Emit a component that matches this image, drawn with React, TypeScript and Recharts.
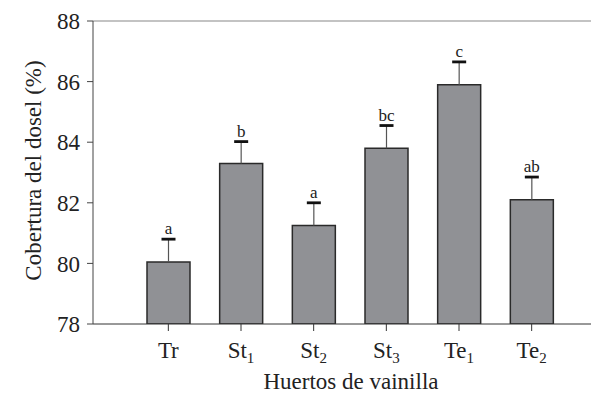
import { BarChart, Bar, XAxis, YAxis, ReferenceLine } from "recharts";

const categories = ["Tr", "St_1", "St_2", "St_3", "Te_1", "Te_2"];
const means = [80.05, 83.3, 81.25, 83.8, 85.9, 82.1];
const errors = [0.75, 0.72, 0.75, 0.75, 0.75, 0.75];
const letters = ["a", "b", "a", "bc", "c", "ab"];
const yTicks = [78, 80, 82, 84, 86, 88];

const data = categories.map((name, i) => ({
  name,
  mean: means[i],
  err: errors[i],
  letter: letters[i],
}));

const FONT = "Liberation Serif, serif";

function CategoryTick(props: any) {
  const { x, y, payload } = props;
  const [main, sub] = String(payload.value).split("_");
  return (
    <text x={x} y={y + 25} textAnchor="middle" style={{ fontFamily: FONT }} fontSize={23} fill="#222">
      <tspan>{main}</tspan>
      {sub && (
        <tspan fontSize={15} dy={5}>
          {sub}
        </tspan>
      )}
    </text>
  );
}

function ErrorShape(props: any) {
  const { x, y, width, height, index, payload } = props;
  const cx = x + width / 2;
  const letter = payload?.letter ?? letters[index];
  return (
    <g>
      <line x1={cx} y1={y + height} x2={cx} y2={y} stroke="#555" strokeWidth={1.2} />
      <line x1={cx - 7} y1={y} x2={cx + 7} y2={y} stroke="#111" strokeWidth={2.8} />
      <text x={cx} y={y - 5} textAnchor="middle" style={{ fontFamily: FONT }} fontSize={17} fill="#222">
        {letter}
      </text>
    </g>
  );
}

export default function App() {
  return (
    <div style={{ width: 591, height: 386, fontFamily: FONT }}>
      <BarChart width={591} height={386} data={data} margin={{ top: 13, right: 0, left: 0, bottom: 0 }}>
        <ReferenceLine y={88} stroke="#888" strokeWidth={1.2} />
        <XAxis
          dataKey="name"
          height={70}
          padding={{ left: 39, right: 31 }}
          stroke="#333"
          tickLine={{ stroke: "#333" }}
          tickSize={7}
          tick={<CategoryTick />}
          label={{
            content: (p: any) => {
              const vb = p.viewBox;
              return (
                <text
                  x={vb.x + vb.width / 2 + 5}
                  y={vb.y + 65}
                  textAnchor="middle"
                  style={{ fontFamily: FONT }}
                  fontSize={23}
                  fill="#222"
                >
                  Huertos de vainilla
                </text>
              );
            },
          }}
        />
        <YAxis
          domain={[78, 88]}
          ticks={yTicks}
          allowDataOverflow
          width={85}
          stroke="#444"
          tickSize={6}
          tickMargin={7}
          tick={{ fontSize: 23, fill: "#222", style: { fontFamily: FONT } }}
          label={{
            content: (p: any) => {
              const vb = p.viewBox;
              const cy = vb.y + vb.height / 2 - 2;
              return (
                <text
                  x={25}
                  y={cy}
                  transform={`rotate(-90, 25, ${cy})`}
                  textAnchor="middle"
                  dominantBaseline="central"
                  style={{ fontFamily: FONT }}
                  fontSize={23}
                  fill="#222"
                >
                  Cobertura del dosel (%)
                </text>
              );
            },
          }}
        />
        <Bar
          dataKey="mean"
          stackId="a"
          barSize={43}
          fill="#909195"
          stroke="#2a2a2a"
          strokeWidth={1.5}
          isAnimationActive={false}
        />
        <Bar dataKey="err" stackId="a" barSize={43} shape={<ErrorShape />} isAnimationActive={false} />
      </BarChart>
    </div>
  );
}
